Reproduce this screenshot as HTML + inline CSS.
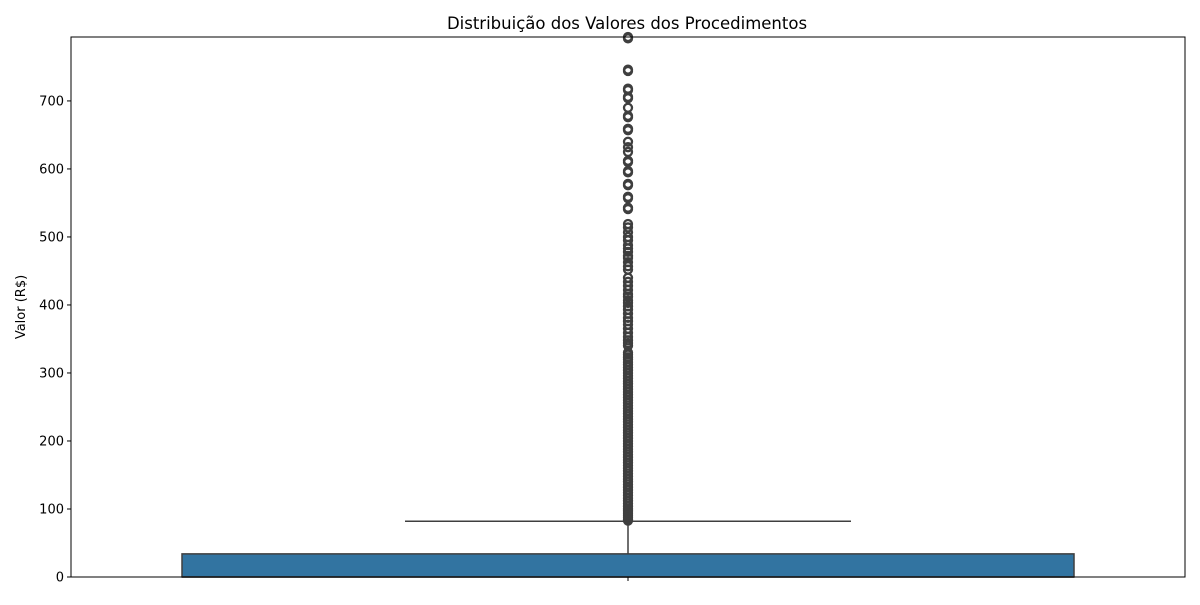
<!DOCTYPE html>
<html><head><meta charset="utf-8"><style>
body{margin:0;background:#fff;font-family:"Liberation Sans","DejaVu Sans",sans-serif}
text{font-family:"DejaVu Sans","Liberation Sans",sans-serif}
</style></head><body>
<svg id="c" width="1200" height="600"></svg>
<script>
const yTicks=[0,100,200,300,400,500,600,700];
const q1=0, median=0, q3=34, whiskerLow=0, whiskerHigh=82;
const outliers=[794,792,746,744,718,716,706,704,690,678,676,659,657,640,632,625,612,610,597,595,578,576,559,557,543,541,519,514,507,500,495,488,483,478,472,469,463,457,452,440,434,428,422,416,412,407,403,398,393,387,381,376,371,365,359,353,348,344,340,
330,327,323,320,316,312,308,304,300,296,292,288,284,280,276,272,268,264,260,256,252,248,244,240,236,232,228,224,220,216,212,208,204,200,196,192,188,184,180,176,172,168,164,160,156,152,148,144,140,136,132,128,124,120,116,112,108,104,100,97,94,91,88,85,83];
const yMax=794;
const L=71,R=1185,T=37,B=577,cx=628;
const y=v=>B-(v/yMax)*(B-T);
const svg=document.getElementById('c');
const NS='http://www.w3.org/2000/svg';
function mk(tag,attrs,parent){const e=document.createElementNS(NS,tag);for(const k in attrs)e.setAttribute(k,attrs[k]);(parent||svg).appendChild(e);return e;}
let t=mk('text',{x:627,y:29,'text-anchor':'middle','font-size':16.5,fill:'#000'});t.textContent='Distribuição dos Valores dos Procedimentos';


t=mk('text',{transform:'translate(25,307) rotate(-90)','text-anchor':'middle','font-size':13,fill:'#000'});t.textContent='Valor (R$)';


yTicks.forEach(v=>{
  const l=mk('line',{x1:L-4,x2:L,y1:y(v),y2:y(v),stroke:'#000','stroke-width':1});
  
  
  const tx=mk('text',{x:L-7,y:y(v)+4.5,'text-anchor':'end','font-size':13,fill:'#000'});tx.textContent=v;
  
  
});
let w=mk('line',{x1:cx,x2:cx,y1:y(q3),y2:y(whiskerHigh),stroke:'#3f3f3f','stroke-width':1.5});


let cap=mk('line',{x1:405,x2:851,y1:y(whiskerHigh),y2:y(whiskerHigh),stroke:'#3f3f3f','stroke-width':1.5});


outliers.forEach(v=>{
  const c=mk('circle',{cx:cx,cy:y(v),r:4,fill:'none',stroke:'#3f3f3f','stroke-width':2.3});
  
  
});
let box=mk('rect',{x:182,y:y(q3),width:892,height:y(q1)-y(q3),fill:'#3274a1',stroke:'#3f3f3f','stroke-width':1.5});


let med=mk('line',{x1:182,x2:1074,y1:y(median),y2:y(median),stroke:'#3f3f3f','stroke-width':1.5});


let fr=mk('rect',{x:L,y:T,width:R-L,height:B-T,fill:'none',stroke:'#000','stroke-width':1});


let xt=mk('line',{x1:cx,x2:cx,y1:B,y2:B+4,stroke:'#000'});


</script>
</body></html>
